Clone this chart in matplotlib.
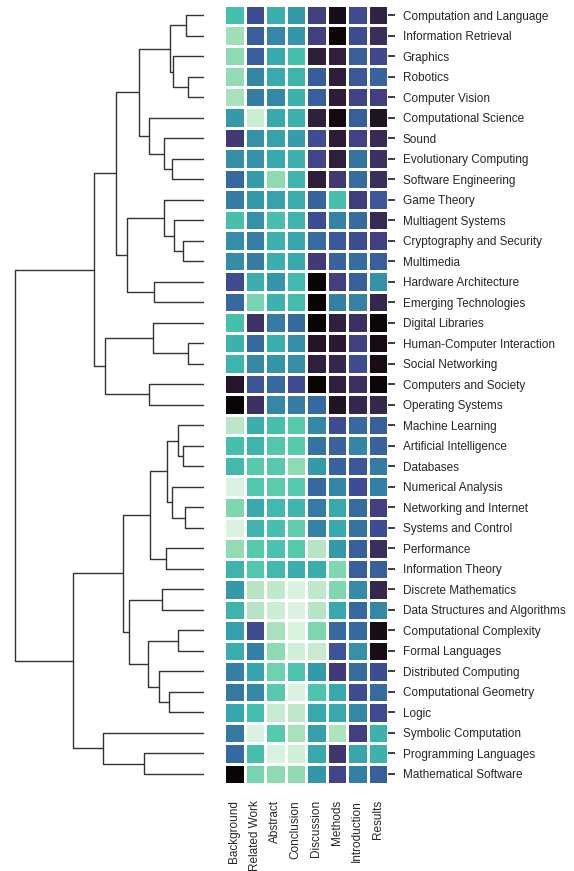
import numpy as np
import matplotlib
matplotlib.use("Agg")
import matplotlib.pyplot as plt
import seaborn as sns

columns = ["Background", "Related Work", "Abstract", "Conclusion",
           "Discussion", "Methods", "Introduction", "Results"]

rows = ["Computation and Language", "Information Retrieval", "Graphics", "Robotics",
        "Computer Vision", "Computational Science", "Sound", "Evolutionary Computing",
        "Software Engineering", "Game Theory", "Multiagent Systems",
        "Cryptography and Security", "Multimedia", "Hardware Architecture",
        "Emerging Technologies", "Digital Libraries", "Human-Computer Interaction",
        "Social Networking", "Computers and Society", "Operating Systems",
        "Machine Learning", "Artificial Intelligence", "Databases", "Numerical Analysis",
        "Networking and Internet", "Systems and Control", "Performance",
        "Information Theory", "Discrete Mathematics", "Data Structures and Algorithms",
        "Computational Complexity", "Formal Languages", "Distributed Computing",
        "Computational Geometry", "Logic", "Symbolic Computation",
        "Programming Languages", "Mathematical Software"]

values = [
    [0.74, 0.35, 0.68, 0.61, 0.30, 0.05, 0.35, 0.16],
    [0.89, 0.41, 0.55, 0.60, 0.30, 0.01, 0.35, 0.22],
    [0.86, 0.41, 0.66, 0.74, 0.14, 0.15, 0.41, 0.33],
    [0.87, 0.54, 0.67, 0.70, 0.40, 0.14, 0.38, 0.42],
    [0.90, 0.50, 0.55, 0.69, 0.41, 0.13, 0.31, 0.30],
    [0.61, 0.96, 0.66, 0.69, 0.15, 0.03, 0.41, 0.08],
    [0.27, 0.58, 0.64, 0.62, 0.35, 0.13, 0.31, 0.20],
    [0.57, 0.58, 0.66, 0.69, 0.32, 0.15, 0.48, 0.23],
    [0.44, 0.62, 0.86, 0.70, 0.14, 0.27, 0.45, 0.22],
    [0.50, 0.61, 0.64, 0.68, 0.42, 0.74, 0.29, 0.38],
    [0.74, 0.58, 0.74, 0.70, 0.35, 0.53, 0.45, 0.20],
    [0.57, 0.52, 0.69, 0.65, 0.45, 0.38, 0.35, 0.30],
    [0.56, 0.50, 0.68, 0.66, 0.28, 0.42, 0.45, 0.41],
    [0.34, 0.68, 0.60, 0.72, 0.00, 0.30, 0.41, 0.58],
    [0.44, 0.83, 0.69, 0.73, 0.00, 0.52, 0.53, 0.18],
    [0.74, 0.24, 0.50, 0.44, 0.00, 0.15, 0.23, 0.01],
    [0.69, 0.44, 0.68, 0.57, 0.09, 0.12, 0.30, 0.04],
    [0.70, 0.55, 0.59, 0.57, 0.15, 0.18, 0.35, 0.05],
    [0.10, 0.37, 0.44, 0.34, 0.00, 0.15, 0.23, 0.01],
    [0.00, 0.23, 0.55, 0.51, 0.44, 0.08, 0.18, 0.18],
    [0.93, 0.68, 0.74, 0.78, 0.55, 0.35, 0.44, 0.41],
    [0.74, 0.70, 0.77, 0.78, 0.48, 0.42, 0.54, 0.42],
    [0.72, 0.78, 0.78, 0.86, 0.61, 0.42, 0.38, 0.50],
    [0.99, 0.77, 0.79, 0.78, 0.44, 0.54, 0.35, 0.52],
    [0.84, 0.66, 0.72, 0.70, 0.50, 0.66, 0.45, 0.30],
    [0.99, 0.70, 0.74, 0.80, 0.53, 0.66, 0.48, 0.35],
    [0.87, 0.78, 0.75, 0.78, 0.92, 0.61, 0.41, 0.22],
    [0.70, 0.77, 0.72, 0.68, 0.68, 0.84, 0.41, 0.41],
    [0.61, 0.92, 0.94, 0.99, 0.94, 0.84, 0.56, 0.18],
    [0.70, 0.92, 0.96, 0.99, 0.92, 0.66, 0.44, 0.55],
    [0.63, 0.34, 0.90, 0.99, 0.84, 0.44, 0.44, 0.05],
    [0.68, 0.52, 0.86, 0.97, 0.95, 0.37, 0.58, 0.05],
    [0.52, 0.64, 0.82, 0.76, 0.61, 0.28, 0.45, 0.35],
    [0.49, 0.55, 0.78, 0.99, 0.76, 0.66, 0.35, 0.45],
    [0.65, 0.74, 0.95, 0.94, 0.66, 0.66, 0.55, 0.34],
    [0.49, 0.99, 0.78, 0.90, 0.63, 0.91, 0.30, 0.69],
    [0.44, 0.74, 0.99, 0.97, 0.66, 0.26, 0.65, 0.69],
    [0.00, 0.83, 0.86, 0.86, 0.60, 0.32, 0.52, 0.41],
]

# Linkage: (node a, node b, height). Leaves 0..37 in display order,
# cluster ids 38+ assigned in merge order.
links = [
    (0, 1, 18.3), (3, 4, 16.3), (2, 39, 31.0), (38, 40, 33.7),
    (7, 8, 31.7), (6, 42, 40.0), (5, 43, 55.0), (41, 44, 65.0),
    (11, 12, 21.0), (10, 46, 30.0), (9, 47, 39.7), (13, 14, 49.7),
    (48, 49, 76.7), (45, 50, 87.7),
    (16, 17, 16.3), (15, 52, 50.7), (18, 19, 55.0), (53, 54, 99.0),
    (51, 55, 110.3),
    (21, 22, 21.0), (20, 57, 26.0), (24, 25, 19.3), (23, 59, 32.0),
    (58, 60, 37.0), (26, 27, 38.3), (61, 62, 53.7),
    (28, 29, 41.7), (30, 31, 25.7), (33, 34, 35.0), (32, 66, 44.7),
    (65, 67, 56.0), (64, 68, 75.3), (63, 69, 81.3),
    (36, 37, 60.3), (35, 71, 101.0), (70, 72, 131.3),
    (56, 73, 188.7),
]

plt.rcParams['font.family'] = ['Liberation Sans', 'DejaVu Sans']
W, H = 574, 871
fig = plt.figure(figsize=(W / 100, H / 100), dpi=100)

hm_left, hm_right, hm_top, hm_bot = 224, 388, 5, 784
ax = fig.add_axes([hm_left / W, (H - hm_bot) / H, (hm_right - hm_left) / W, (hm_bot - hm_top) / H])
data = np.array(values)
nr, nc = data.shape
ax.pcolormesh(np.arange(nc + 1), np.arange(nr + 1), data, cmap=sns.color_palette("mako", as_cmap=True),
              vmin=0, vmax=1, edgecolor='white', linewidth=1.0)
ax.set_xlim(0, nc)
ax.set_ylim(nr, 0)
for s in ax.spines.values():
    s.set_visible(False)
ax.yaxis.tick_right()
ax.set_yticks(np.arange(nr) + 0.5)
ax.set_yticklabels(rows, fontsize=8.5, color='.15')
ax.tick_params(axis='y', length=5, width=1.25, color='.15', pad=5.5)
ax.set_xticks(np.arange(nc) + 0.5)
ax.set_xticklabels(columns, rotation=90, fontsize=8.5, color='.15', va='top')
ax.tick_params(axis='x', length=0, pad=11.5)

# Dendrogram
dmax = max(l[2] for l in links)
d_right = 204
d_width = dmax * 1.05
dax = fig.add_axes([(d_right - d_width) / W, (H - hm_bot) / H, d_width / W, (hm_bot - hm_top) / H])
pos = {i: i + 0.5 for i in range(nr)}
hgt = {i: 0.0 for i in range(nr)}
for k, (a, b, h) in enumerate(links):
    nid = nr + k
    ya, yb = pos[a], pos[b]
    dax.plot([hgt[a], h, h, hgt[b]], [ya, ya, yb, yb], color='.2', lw=1.0, solid_capstyle='butt')
    pos[nid] = (ya + yb) / 2
    hgt[nid] = h
dax.set_xlim(d_width, 0)
dax.set_ylim(nr, 0)
dax.axis('off')

fig.savefig("out.png", dpi=100)
